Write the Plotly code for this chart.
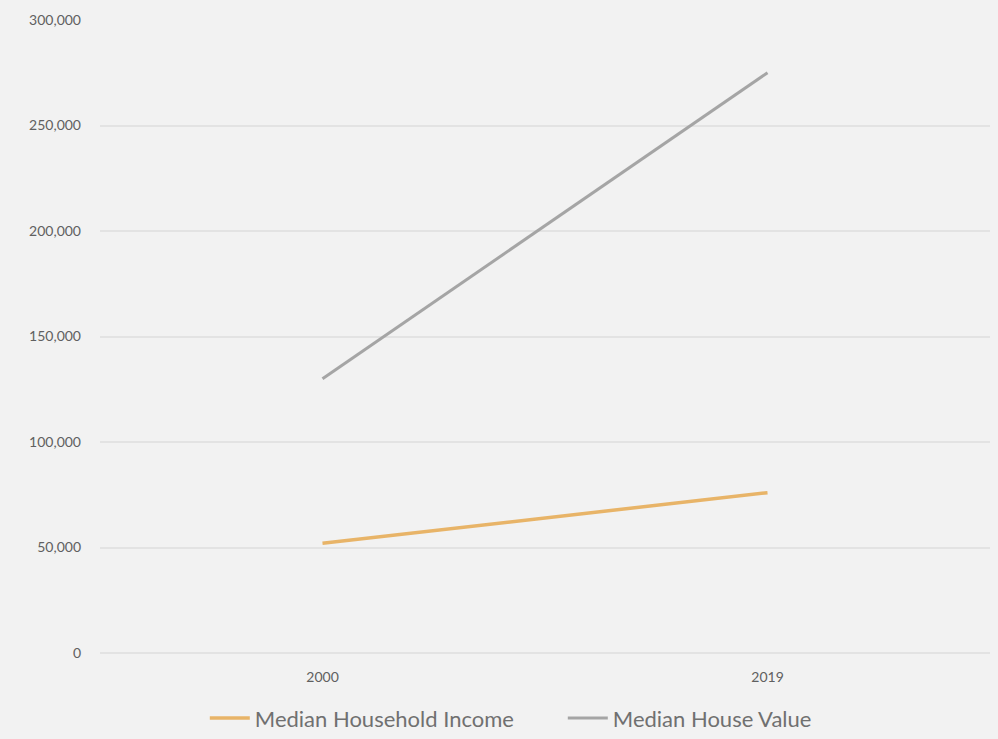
import plotly.graph_objects as go

# Survey years shown on the category axis
years = ["2000", "2019"]

# Median values in dollars
median_household_income = [52000, 76000]
median_house_value = [130000, 275000]

# Value axis ticks
y_ticks = [0, 50000, 100000, 150000, 200000, 250000, 300000]
y_tick_labels = ["0", "50,000", "100,000", "150,000", "200,000", "250,000", "300,000"]

fig = go.Figure()
fig.add_trace(go.Scatter(
    x=years, y=median_household_income, mode="lines",
    name="Median Household Income",
    line=dict(color="#E8B468", width=3.5),
))
fig.add_trace(go.Scatter(
    x=years, y=median_house_value, mode="lines",
    name="Median House Value",
    line=dict(color="#A5A5A5", width=3),
))

fig.update_layout(
    width=998, height=739,
    margin=dict(l=100, r=8, t=20, b=86, autoexpand=False),
    paper_bgcolor="#F2F2F2",
    plot_bgcolor="#F2F2F2",
    font=dict(family="Lato, 'Open Sans', sans-serif", color="#666666"),
    showlegend=True,
    legend=dict(
        orientation="h", x=0.52, xanchor="center",
        yref="container", y=0.028, yanchor="middle",
        font=dict(size=22, color="#707070"),
        bgcolor="rgba(0,0,0,0)",
        itemwidth=40,
        entrywidth=303, entrywidthmode="pixels",
    ),
    xaxis=dict(
        type="category", range=[-0.5, 1.5],
        showgrid=False, zeroline=False, showline=False,
        ticks="", ticklabelstandoff=14,
        tickfont=dict(size=14, color="#606060"),
    ),
    yaxis=dict(
        range=[0, 300000],
        tickmode="array", tickvals=y_ticks, ticktext=y_tick_labels,
        showgrid=True, gridcolor="#E3E3E3", gridwidth=1.5,
        zeroline=True, zerolinecolor="#E3E3E3", zerolinewidth=1.5,
        showline=False, ticks="", ticklabelstandoff=18,
        tickfont=dict(size=14, color="#606060"),
    ),
)

fig.write_html("out.html")
